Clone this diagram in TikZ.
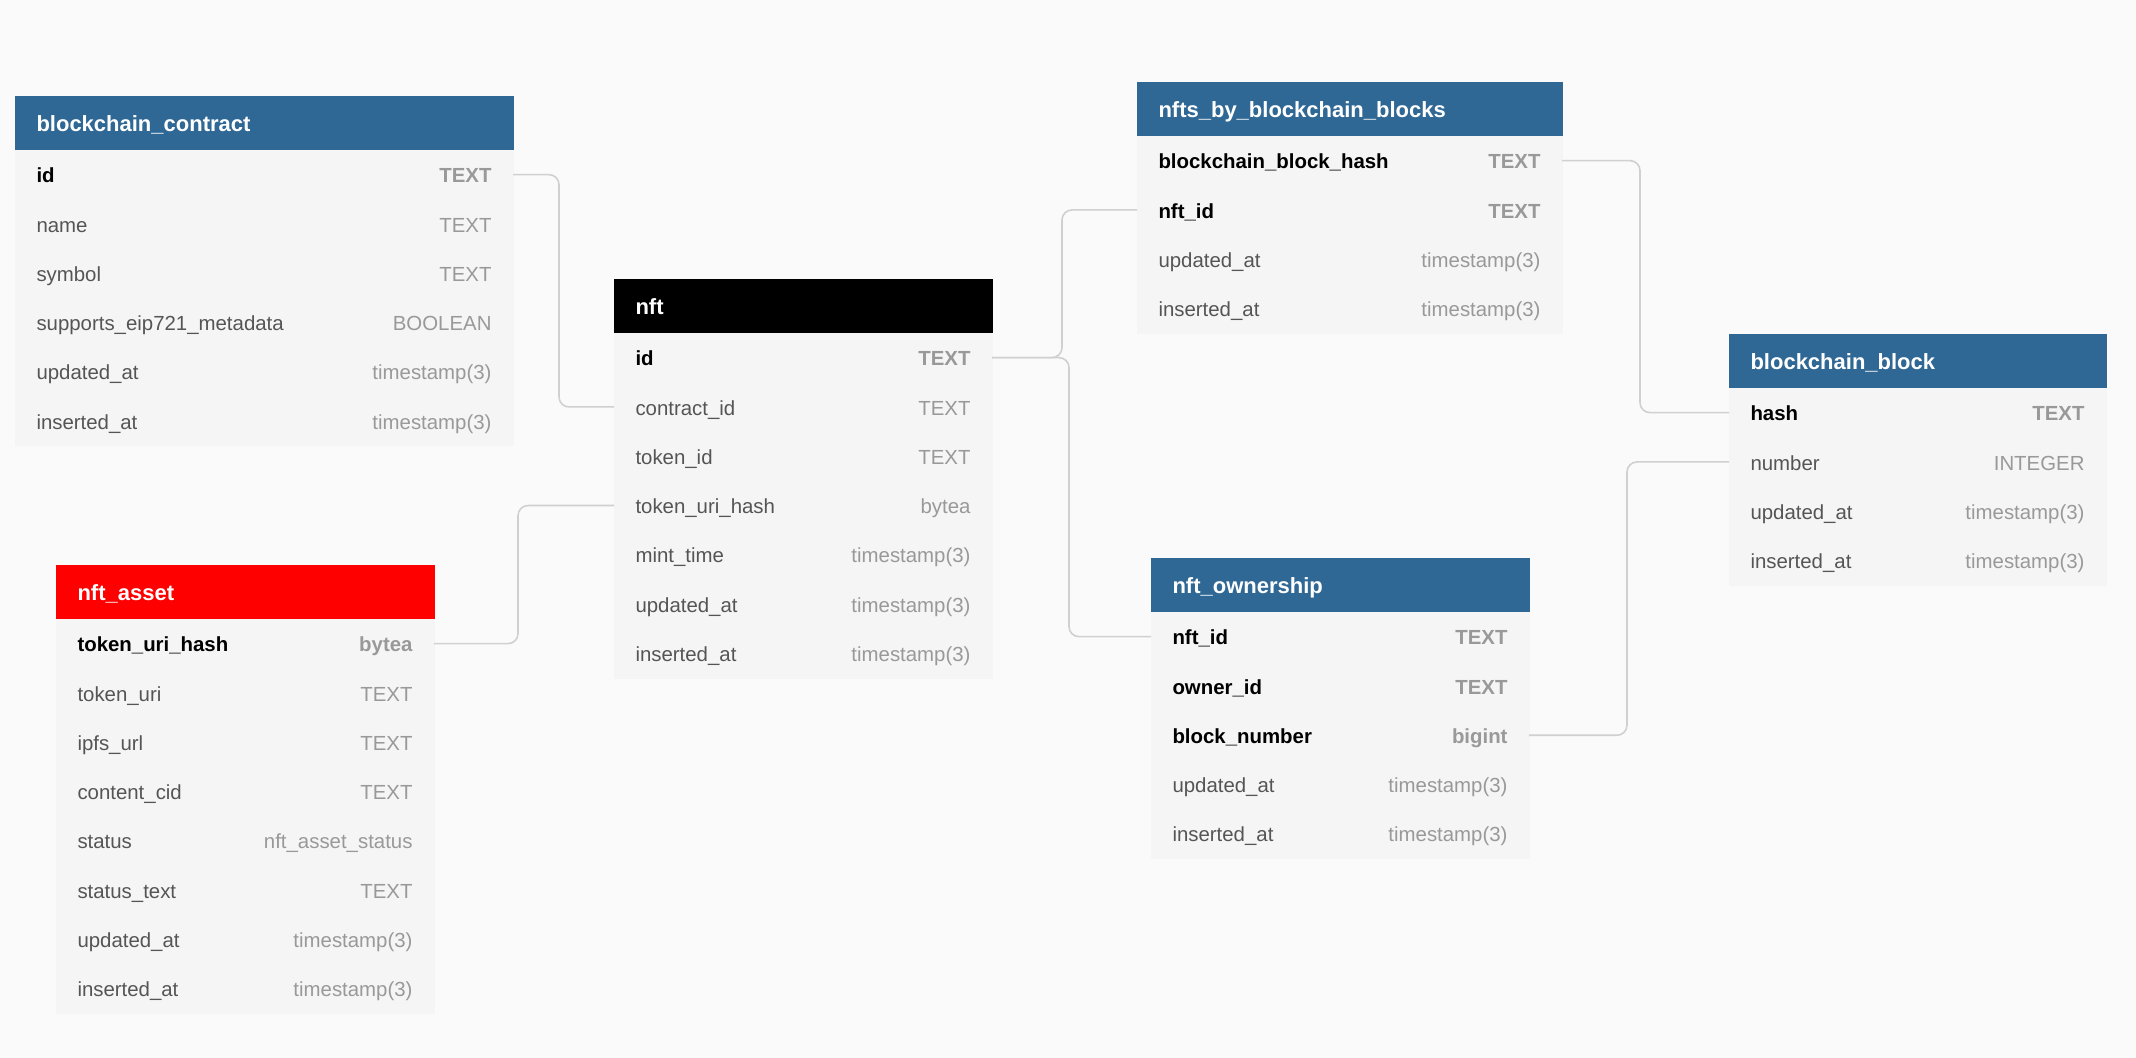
\documentclass[tikz,border=0pt]{standalone}
\usepackage{fontspec}
\setmainfont{Liberation Sans}
\usetikzlibrary{positioning}
\definecolor{headblue}{RGB}{48,104,149}
\definecolor{headred}{RGB}{255,0,0}
\definecolor{bodygray}{RGB}{245,245,245}
\definecolor{pagebg}{RGB}{250,250,250}
\definecolor{namegray}{RGB}{85,85,85}
\definecolor{typegray}{RGB}{153,153,153}
\definecolor{linkgray}{RGB}{208,208,208}
\newcommand{\ftype}[1]{\hfill\textcolor{typegray}{#1}}
\tikzset{
    thead/.style={
        rectangle,
        fill=#1,
        draw=#1,
        line width=0.3pt,
        outer sep=0pt,
        text=white,
        anchor=north west,
        align=left,
        minimum height=27pt,
        inner xsep=10.75pt,
        inner ysep=0pt,
        text height=9.4pt,
        text depth=0.9pt,
        font=\bfseries\fontsize{11}{13}\selectfont
    },
    trow/.style={
        rectangle,
        fill=bodygray,
        draw=bodygray,
        line width=0.3pt,
        outer sep=0pt,
        text=namegray,
        minimum height=24.65pt,
        inner xsep=10.75pt,
        inner ysep=0pt,
        text height=8.8pt,
        text depth=0.7pt,
        font=\fontsize{10.2}{12}\selectfont
    },
    keyrow/.style={
        trow,
        text=black,
        font=\bfseries\fontsize{10.2}{12}\selectfont
    },
    link/.style={
        draw=linkgray,
        line width=0.8pt,
        rounded corners=5pt
    },
}
\begin{document}
\begin{tikzpicture}[x=0.5pt, y=-0.5pt]

\fill[pagebg] (0,0) rectangle (2136,1058);

% Table blockchain_contract
\begin{scope}[every node/.append style={text width=227.5pt}]
\node[thead=headblue] (bc) at (15,96) {blockchain\_contract};
\node[keyrow, below=0pt of bc] (bc-id) {id\ftype{TEXT}};
\node[trow, below=0pt of bc-id] (bc-name) {name\ftype{TEXT}};
\node[trow, below=0pt of bc-name] (bc-sym) {symbol\ftype{TEXT}};
\node[trow, below=0pt of bc-sym] (bc-eip) {supports\_eip721\_metadata\ftype{BOOLEAN}};
\node[trow, below=0pt of bc-eip] (bc-upd) {updated\_at\ftype{timestamp(3)}};
\node[trow, below=0pt of bc-upd] (bc-ins) {inserted\_at\ftype{timestamp(3)}};
\end{scope}

% Table nft
\begin{scope}[every node/.append style={text width=167.5pt}]
\node[thead=black] (nft) at (614,279) {nft};
\node[keyrow, below=0pt of nft] (nft-id) {id\ftype{TEXT}};
\node[trow, below=0pt of nft-id] (nft-cid) {contract\_id\ftype{TEXT}};
\node[trow, below=0pt of nft-cid] (nft-tid) {token\_id\ftype{TEXT}};
\node[trow, below=0pt of nft-tid] (nft-uri) {token\_uri\_hash\ftype{bytea}};
\node[trow, below=0pt of nft-uri] (nft-mint) {mint\_time\ftype{timestamp(3)}};
\node[trow, below=0pt of nft-mint] (nft-upd) {updated\_at\ftype{timestamp(3)}};
\node[trow, below=0pt of nft-upd] (nft-ins) {inserted\_at\ftype{timestamp(3)}};
\end{scope}

% Table nfts_by_blockchain_blocks
\begin{scope}[every node/.append style={text width=191pt}]
\node[thead=headblue] (nb) at (1137,82) {nfts\_by\_blockchain\_blocks};
\node[keyrow, below=0pt of nb] (nb-hash) {blockchain\_block\_hash\ftype{TEXT}};
\node[keyrow, below=0pt of nb-hash] (nb-nft) {nft\_id\ftype{TEXT}};
\node[trow, below=0pt of nb-nft] (nb-upd) {updated\_at\ftype{timestamp(3)}};
\node[trow, below=0pt of nb-upd] (nb-ins) {inserted\_at\ftype{timestamp(3)}};
\end{scope}

% Table blockchain_block
\begin{scope}[every node/.append style={text width=167pt}]
\node[thead=headblue] (bb) at (1729,334) {blockchain\_block};
\node[keyrow, below=0pt of bb] (bb-hash) {hash\ftype{TEXT}};
\node[trow, below=0pt of bb-hash] (bb-num) {number\ftype{INTEGER}};
\node[trow, below=0pt of bb-num] (bb-upd) {updated\_at\ftype{timestamp(3)}};
\node[trow, below=0pt of bb-upd] (bb-ins) {inserted\_at\ftype{timestamp(3)}};
\end{scope}

% Table nft_asset
\begin{scope}[every node/.append style={text width=167.5pt}]
\node[thead=headred] (na) at (56,565) {nft\_asset};
\node[keyrow, below=0pt of na] (na-uri) {token\_uri\_hash\ftype{bytea}};
\node[trow, below=0pt of na-uri] (na-turi) {token\_uri\ftype{TEXT}};
\node[trow, below=0pt of na-turi] (na-ipfs) {ipfs\_url\ftype{TEXT}};
\node[trow, below=0pt of na-ipfs] (na-cid) {content\_cid\ftype{TEXT}};
\node[trow, below=0pt of na-cid] (na-st) {status\ftype{nft\_asset\_status}};
\node[trow, below=0pt of na-st] (na-stt) {status\_text\ftype{TEXT}};
\node[trow, below=0pt of na-stt] (na-upd) {updated\_at\ftype{timestamp(3)}};
\node[trow, below=0pt of na-upd] (na-ins) {inserted\_at\ftype{timestamp(3)}};
\end{scope}

% Table nft_ownership
\begin{scope}[every node/.append style={text width=167.5pt}]
\node[thead=headblue] (no) at (1151,558) {nft\_ownership};
\node[keyrow, below=0pt of no] (no-nft) {nft\_id\ftype{TEXT}};
\node[keyrow, below=0pt of no-nft] (no-own) {owner\_id\ftype{TEXT}};
\node[keyrow, below=0pt of no-own] (no-bn) {block\_number\ftype{bigint}};
\node[trow, below=0pt of no-bn] (no-upd) {updated\_at\ftype{timestamp(3)}};
\node[trow, below=0pt of no-upd] (no-ins) {inserted\_at\ftype{timestamp(3)}};
\end{scope}

% Links
\draw[link] (bc-id.east) -- ++(46,0) |- (nft-cid.west);
\draw[link] (na-uri.east) -- ++(84,0) |- (nft-uri.west);
\draw[link] (nft-id.east) -- ++(70,0) |- (nb-nft.west);
\draw[link] (nft-id.east) -- ++(77,0) |- (no-nft.west);
\draw[link] (nb-hash.east) -- ++(78,0) |- (bb-hash.west);
\draw[link] (no-bn.east) -- ++(98,0) |- (bb-num.west);

\end{tikzpicture}
\end{document}
